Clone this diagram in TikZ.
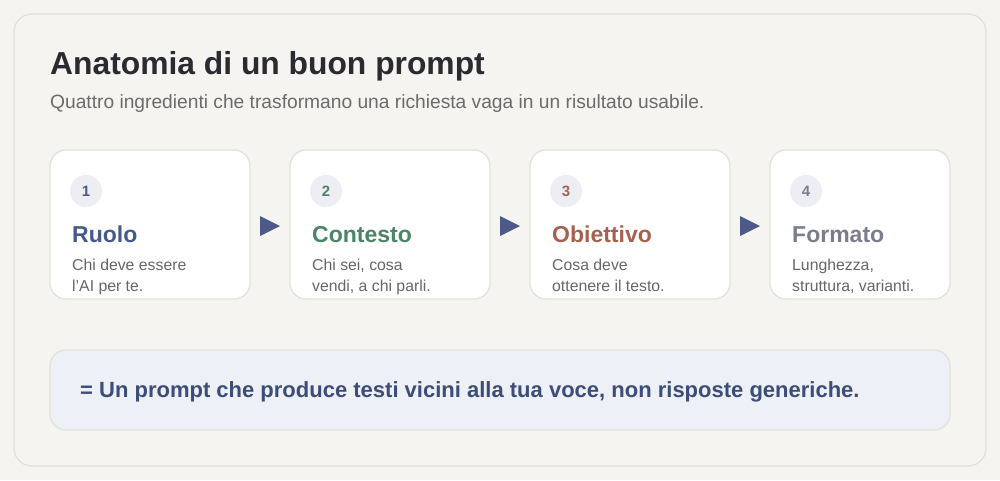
\documentclass[tikz,border=0pt]{standalone}
\usepackage{fontspec}
\setmainfont{Liberation Sans}
\definecolor{pagebg}{HTML}{F5F4F0}
\definecolor{panelline}{HTML}{E2E0DA}
\definecolor{cardline}{HTML}{E3E1DC}
\definecolor{titlec}{HTML}{2A2A30}
\definecolor{subc}{HTML}{6B6B6B}
\definecolor{descc}{HTML}{666666}
\definecolor{circc}{HTML}{ECEEF3}
\definecolor{cblue}{HTML}{46598A}
\definecolor{cgreen}{HTML}{4A8566}
\definecolor{cred}{HTML}{A8604E}
\definecolor{cgray}{HTML}{7B7D8C}
\definecolor{arrowc}{HTML}{4A5A8A}
\definecolor{boxbg}{HTML}{EDF0F7}
\definecolor{boxtext}{HTML}{3D4C78}
\begin{document}
\begin{tikzpicture}[x=1pt,y=-1pt,
  card/.style={draw=cardline,line width=1.3pt,fill=white,rounded corners=16pt},
  numcirc/.style={circle,fill=circc,minimum size=32pt,inner sep=0pt,font=\fontsize{15}{15}\selectfont\bfseries},
  head/.style={anchor=base west,inner sep=0pt,font=\fontsize{23}{23}\selectfont\bfseries},
  desc/.style={anchor=base west,inner sep=0pt,font=\fontsize{15.8}{21}\selectfont,text=descc,align=left},
  tri/.style={fill=arrowc}]
\useasboundingbox (0,0) rectangle (1000,480);
\fill[pagebg] (0,0) rectangle (1000,480);
\draw[draw=panelline,line width=1.3pt,fill=pagebg,rounded corners=18pt] (14,14) rectangle (986,466);
\node[anchor=base west,inner sep=0pt,text=titlec,font=\fontsize{31.8}{32}\selectfont\bfseries] (title) at (50,74) {Anatomia di un buon prompt};
\node[anchor=base west,inner sep=0pt,text=subc,font=\fontsize{19.2}{19}\selectfont] (sub) at (50,108) {Quattro ingredienti che trasformano una richiesta vaga in un risultato usabile.};
% cards
\draw[card] (50,150) rectangle (250,299);
\draw[card] (290,150) rectangle (490,299);
\draw[card] (530,150) rectangle (730,299);
\draw[card] (770,150) rectangle (950,299);
\node[numcirc,text=cblue] (n1) at (86,191) {1};
\node[numcirc,text=cgreen] (n2) at (326,191) {2};
\node[numcirc,text=cred] (n3) at (566,191) {3};
\node[numcirc,text=cgray] (n4) at (806,191) {4};
\node[head,text=cblue] (h1) at (72,242) {Ruolo};
\node[head,text=cgreen] (h2) at (312,242) {Contesto};
\node[head,text=cred] (h3) at (552,242) {Obiettivo};
\node[head,text=cgray] (h4) at (792,242) {Formato};
\node[desc] (d1) at (72,291) {Chi deve essere\\l'AI per te.};
\node[desc] (d2) at (312,291) {Chi sei, cosa\\vendi, a chi parli.};
\node[desc] (d3) at (552,291) {Cosa deve\\ottenere il testo.};
\node[desc] (d4) at (792,291) {Lunghezza,\\struttura, varianti.};
% arrows
\fill[tri] (260,216) -- (280,226) -- (260,236) -- cycle;
\fill[tri] (500,216) -- (520,226) -- (500,236) -- cycle;
\fill[tri] (740,216) -- (760,226) -- (740,236) -- cycle;
% bottom box
\draw[draw=cardline,line width=1.3pt,fill=boxbg,rounded corners=16pt] (50,350) rectangle (950,430);
\node[anchor=base west,inner sep=0pt,text=boxtext,font=\fontsize{22}{22}\selectfont\bfseries] (res) at (80,397) {= Un prompt che produce testi vicini alla tua voce, non risposte generiche.};
\end{tikzpicture}
\end{document}
